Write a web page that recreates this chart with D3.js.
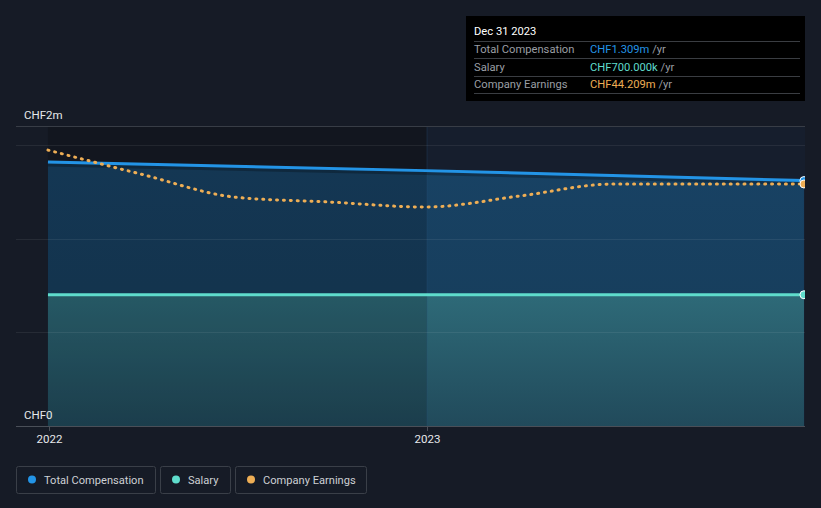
<!DOCTYPE html>
<html><head><meta charset="utf-8">
<script src="https://cdn.jsdelivr.net/npm/d3@7"></script>
<style>
html,body{margin:0;padding:0;background:#161b26;}
svg{display:block;font-family:Roboto,"Open Sans",sans-serif;}
</style></head>
<body><svg id="c" width="821" height="508"></svg>
<script>
// ---- data ----
const compDates = ["2021-12-31","2022-12-31","2023-12-31"];
const compValues = [1.408, 1.362, 1.309];            // CHF m
const salaryValues = [0.70, 0.70, 0.70];               // CHF m
const earnDates = ["2021-12-31","2022-03-31","2022-06-30","2022-09-30","2022-12-31","2023-03-31","2023-06-30","2023-09-30","2023-12-31"];
const earnValues = [50.4, 46.0, 41.8, 40.9, 40.0, 42.0, 44.2, 44.2, 44.209]; // CHF m
const xTicks = ["2022-01-01","2023-01-01"];
const xTickLabels = ["2022","2023"];
const yTopLabel = "CHF2m", yZeroLabel = "CHF0";
const legendItems = ["Total Compensation","Salary","Company Earnings"];
const tooltipTitle = "Dec 31 2023";
const tooltipRows = [["Total Compensation","CHF1.309m"],["Salary","CHF700.000k"],["Company Earnings","CHF44.209m"]];

const colors = {comp:"#2394e6", salary:"#5fdccc", earn:"#eeae55"};
const parse = d3.timeParse("%Y-%m-%d");
const svg = d3.select("#c");

const L=16, R=805, T=126, B=426;
const x = d3.scaleTime().domain([parse("2022-01-01"), parse("2024-01-01")]).range([49, 805]);
const y = d3.scaleLinear().domain([0, 1.6]).range([B, T]);
const yE = d3.scaleLinear().domain([0, 54.8]).range([B, T]);

const comp = compDates.map((d,i)=>({d:parse(d), v:compValues[i]}));
const sal = compDates.map((d,i)=>({d:parse(d), v:salaryValues[i]}));
const earn = earnDates.map((d,i)=>({d:parse(d), v:earnValues[i]}));

const defs = svg.append("defs");
defs.append("clipPath").attr("id","clip").append("rect").attr("x",L).attr("y",T-10).attr("width",R-L).attr("height",B-T+10);
const gs = defs.append("linearGradient").attr("id","salG").attr("x1",0).attr("y1",0).attr("x2",0).attr("y2",1);
gs.append("stop").attr("offset","0%").attr("stop-color","#2e6a78");
gs.append("stop").attr("offset","100%").attr("stop-color","#214a5b");
const gc = defs.append("linearGradient").attr("id","compG").attr("x1",0).attr("y1",0).attr("x2",0).attr("y2",1);
gc.append("stop").attr("offset","0%").attr("stop-color","#184264");
gc.append("stop").attr("offset","100%").attr("stop-color","#163b57");

svg.append("line").attr("x1",L).attr("x2",R).attr("y1",T+0.5).attr("y2",T+0.5).attr("stroke","#383d46");

const g = svg.append("g").attr("clip-path","url(#clip)");
// right highlight region
g.append("rect").attr("x",x(parse("2023-01-01"))).attr("y",T+1).attr("width",R-x(parse("2023-01-01"))).attr("height",B-T-1).attr("fill","rgba(20,45,80,0.18)");
// areas
g.append("path").datum(comp).attr("fill","url(#compG)")
  .attr("d", d3.area().x(d=>x(d.d)).y0(y(0)).y1(d=>y(d.v)));
g.append("path").datum(sal).attr("fill","url(#salG)")
  .attr("d", d3.area().x(d=>x(d.d)).y0(y(0)).y1(d=>y(d.v)));
// dark overlay for left year
g.append("rect").attr("x",x(comp[0].d)).attr("y",T+1).attr("width",x(parse("2023-01-01"))-x(comp[0].d)).attr("height",B-T-1).attr("fill","rgba(0,0,0,0.16)");
g.append("line").attr("x1",x(parse("2023-01-01"))).attr("x2",x(parse("2023-01-01"))).attr("y1",T+1).attr("y2",B)
  .attr("stroke","rgba(40,80,120,0.3)").attr("stroke-width",1);

// gridlines (over the areas)
const gridVals = [0.5, 1.0, 1.5];
g.append("g").selectAll("line").data(gridVals).join("line")
  .attr("x1",L).attr("x2",R).attr("y1",d=>Math.round(y(d))+0.5).attr("y2",d=>Math.round(y(d))+0.5)
  .attr("stroke","rgba(255,255,255,0.07)").attr("stroke-width",1);

// lines
const line = d3.line().x(d=>x(d.d)).y(d=>y(d.v));
g.append("path").datum(comp).attr("fill","none").attr("stroke","rgba(0,0,0,0.25)").attr("stroke-width",3).attr("transform","translate(0,3)").attr("d",line);
g.append("path").datum(comp).attr("fill","none").attr("stroke",colors.comp).attr("stroke-width",3).attr("d",line);
g.append("path").datum(sal).attr("fill","none").attr("stroke",colors.salary).attr("stroke-width",3).attr("d",line);
g.append("path").datum(earn).attr("fill","none").attr("stroke",colors.earn).attr("stroke-width",3)
  .attr("stroke-dasharray","1 5.9").attr("stroke-linecap","round")
  .attr("d", d3.line().curve(d3.curveMonotoneX).x(d=>x(d.d)).y(d=>yE(d.v)));

// end markers
const markers = [[comp[comp.length-1].d, y(comp[comp.length-1].v), colors.comp],
                 [sal[sal.length-1].d, y(sal[sal.length-1].v), colors.salary],
                 [earn[earn.length-1].d, yE(earn[earn.length-1].v), colors.earn]];
g.selectAll("circle.m").data(markers).join("circle").attr("class","m")
  .attr("cx",d=>x(d[0])).attr("cy",d=>d[1]).attr("r",4).attr("fill",d=>d[2]).attr("stroke","#fff").attr("stroke-width",1);

// x axis
svg.append("line").attr("x1",L).attr("x2",R).attr("y1",B+0.5).attr("y2",B+0.5).attr("stroke","#4a4f58");
const xt = svg.append("g").selectAll("g").data(xTicks).join("g").attr("transform",d=>`translate(${Math.round(x(parse(d)))+0.5},${B})`);
xt.append("line").attr("y1",0).attr("y2",5).attr("stroke","#4a4f58");
xt.append("text").attr("y",17).attr("text-anchor","middle").attr("fill","#e6e8ea").attr("font-size",11.5)
  .text((d,i)=>xTickLabels[i]);

// y labels
svg.append("text").attr("x",24).attr("y",119).attr("fill","#e6e8ea").attr("font-size",11.5).text(yTopLabel);
svg.append("text").attr("x",24).attr("y",419).attr("fill","#e6e8ea").attr("font-size",11.5).text(yZeroLabel);

// legend
const legX = [16,160,235], legW=[139,70,131];
const lg = svg.append("g").selectAll("g").data(legendItems).join("g").attr("transform",(d,i)=>`translate(${legX[i]},466)`);
lg.append("rect").attr("x",0.5).attr("y",0.5).attr("width",(d,i)=>legW[i]).attr("height",27).attr("rx",2)
  .attr("fill","none").attr("stroke","#3a3f48");
lg.append("circle").attr("cx",16).attr("cy",13.5).attr("r",4).attr("fill",(d,i)=>[colors.comp,colors.salary,colors.earn][i]);
lg.append("text").attr("x",28).attr("y",17.5).attr("fill","#cdd0d4").attr("font-size",11.1).text(d=>d);

// tooltip
const tt = svg.append("g").attr("transform","translate(466,16)");
tt.append("rect").attr("width",339).attr("height",85).attr("fill","#000");
tt.append("text").attr("x",8).attr("y",19).attr("fill","#fff").attr("font-size",11.2).text(tooltipTitle);
const sepY = [25,42,60,77];
tt.selectAll("line").data(sepY).join("line").attr("x1",8).attr("x2",334).attr("y1",d=>d+0.5).attr("y2",d=>d+0.5).attr("stroke","#3a3d42");
const rowCol = [colors.comp, colors.salary, colors.earn];
tooltipRows.forEach((r,i)=>{
  const t = tt.append("text").attr("x",8).attr("y",37+i*17.5).attr("font-size",11.2);
  t.append("tspan").attr("fill","#9a9ea4").text(r[0]);
  const t2 = tt.append("text").attr("x",124).attr("y",37+i*17.5).attr("font-size",11.2);
  t2.append("tspan").attr("fill",rowCol[i]).text(r[1]);
  t2.append("tspan").attr("fill","#9a9ea4").text(" /yr");
});
</script></body></html>
